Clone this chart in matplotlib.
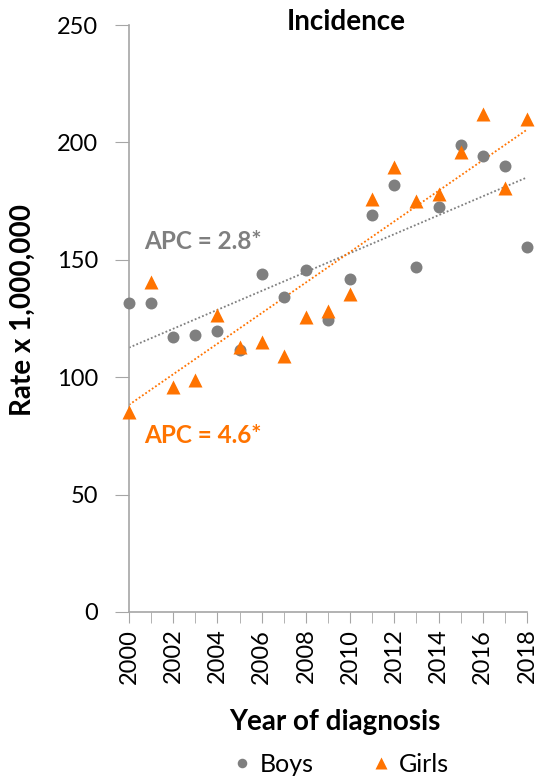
import numpy as np
import matplotlib.pyplot as plt
from matplotlib.ticker import MultipleLocator

plt.rcParams['font.family'] = ['Lato', 'DejaVu Sans']

# Data
years = np.arange(2000, 2019)
boys = [131.5, 131.5, 117, 118, 119.5, 111.5, 144, 134, 145.5, 124.5,
        142, 169, 182, 147, 172.5, 199, 194, 190, 155.5]
girls = [85, 140.5, 96, 99, 126.5, 113, 115, 109, 125.5, 128,
         135.5, 176, 189.5, 175, 178, 196, 212, 180.5, 210]
apc_labels = ['APC = 2.8*', 'APC = 4.6*']

grey = '#7f7f7f'
orange = '#ff7300'
axis_col = '#a6a6a6'

fig = plt.figure(figsize=(5.43, 7.77), dpi=100)
ax = fig.add_axes([0.2376, 0.2124, 0.733, 0.7554])

# linear trend lines fitted to each series
for vals, col in [(boys, grey), (girls, orange)]:
    b, a = np.polyfit(years, vals, 1)
    ax.plot(years, a + b * years, color=col, lw=1.3, ls=(0, (1, 1.2)), zorder=2)

ax.plot(years, boys, 'o', color=grey, ms=8.6, mec='none', clip_on=False, zorder=3, label='Boys')
ax.plot(years, girls, '^', color=orange, ms=10.5, mec='none', clip_on=False, zorder=4, label='Girls')

ax.text(2000.7, 158, apc_labels[0], color=grey, fontsize=17.5, fontweight='bold', va='center')
ax.text(2000.7, 75, apc_labels[1], color=orange, fontsize=17.5, fontweight='bold', va='center')

ax.set_xlim(2000, 2018)
ax.set_ylim(0, 250)
ax.set_yticks(range(0, 251, 50))
ax.set_xticks(range(2000, 2019, 2))
ax.xaxis.set_minor_locator(MultipleLocator(1))
ax.tick_params(axis='x', which='both', rotation=90, length=8, color=axis_col, labelsize=17, pad=4)
ax.tick_params(axis='y', length=10, color=axis_col, labelsize=17, pad=12)
for s in ['top', 'right']:
    ax.spines[s].set_visible(False)
for s in ['left', 'bottom']:
    ax.spines[s].set_color(axis_col)
    ax.spines[s].set_linewidth(1.2)

fig.text(0.638, 0.972, 'Incidence', fontsize=20, fontweight='bold', ha='center', va='center')
fig.text(0.617, 0.071, 'Year of diagnosis', fontsize=20, fontweight='bold', ha='center', va='center')
fig.text(0.043, 0.601, 'Rate x 1,000,000', fontsize=20, fontweight='bold', ha='center', va='center',
         rotation=90)

fig.legend(loc='center', bbox_to_anchor=(0.625, 0.016), ncol=2, frameon=False, fontsize=18,
           handletextpad=0.2, columnspacing=2.2, markerscale=0.8, handlelength=1.0)

fig.savefig('out.png', dpi=100)
